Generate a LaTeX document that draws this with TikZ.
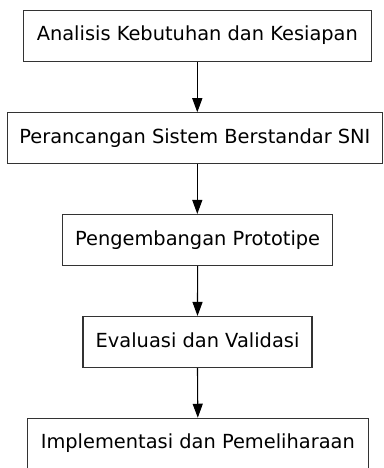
\documentclass[tikz,border=0pt]{standalone}
\usepackage{fontspec}
\setmainfont{DejaVu Sans}
\usetikzlibrary{arrows.meta}
\begin{document}
\begin{tikzpicture}[x=1pt,y=-1pt,
  stepbox/.style={draw=black!80,line width=1.1pt,fill=white,inner sep=0pt,
    text height=14pt,text depth=4pt,minimum height=51pt,font=\fontsize{19.4}{23}\selectfont},
  flow/.style={draw=black,line width=1.1pt,-{Triangle[length=14pt,width=10pt]}}]
\useasboundingbox (0,0) rectangle (383,468);
\node[stepbox,minimum width=348pt] (b1) at (197.3,36) {Analisis Kebutuhan dan Kesiapan};
\node[stepbox,minimum width=375pt] (b2) at (194.9,138.3) {Perancangan Sistem Berstandar SNI};
\node[stepbox,minimum width=270pt] (b3) at (197.6,240) {Pengembangan Prototipe};
\node[stepbox,minimum width=229pt] (b4) at (197.5,342) {Evaluasi dan Validasi};
\node[stepbox,minimum width=341pt] (b5) at (197.8,443.8) {Implementasi dan Pemeliharaan};
\draw[flow] (b1.south) -- (b1.south |- b2.north);
\draw[flow] (b1.south |- b2.south) -- (b1.south |- b3.north);
\draw[flow] (b3.south) -- (b4.north);
\draw[flow] (b4.south) -- (b5.north);
\end{tikzpicture}
\end{document}
